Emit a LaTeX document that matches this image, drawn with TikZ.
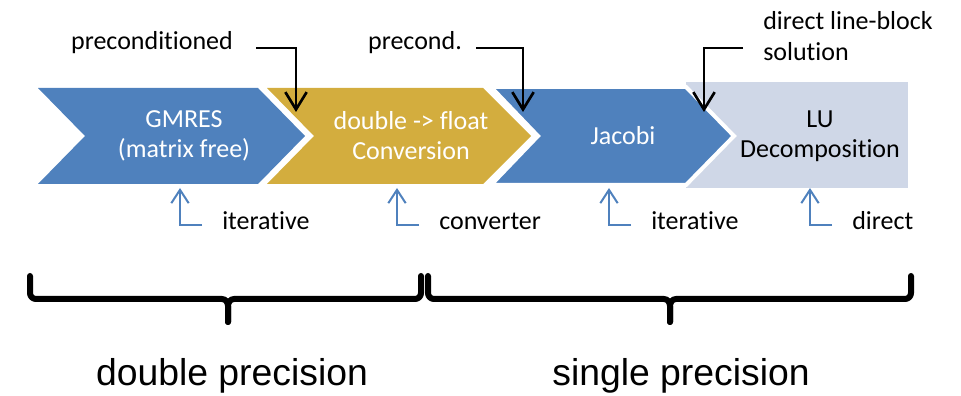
\documentclass[tikz,border=0pt]{standalone}
\usepackage{fontspec}
\setmainfont[Ligatures=NoCommon]{Carlito}
\newfontfamily\arialfont{Liberation Sans}
\usepackage{xcolor}
\usetikzlibrary{arrows.meta,positioning}

\definecolor{chevblue}{HTML}{4F81BD}
\definecolor{chevgold}{HTML}{D3AD3E}
\definecolor{lubox}{HTML}{CFD7E7}

\tikzset{
    chevtext/.style={font=\fontsize{19.5}{22.5}\selectfont, text=white, align=center},
    note/.style={font=\fontsize{19.5}{23.5}\selectfont, align=left, inner sep=0pt},
    callout/.style={draw=black, line width=2pt, -{Straight Barb[length=13pt,width=16pt]}},
    kindarrow/.style={draw=chevblue, line width=1.5pt, -{Straight Barb[length=10pt,width=13pt]}},
    precbrace/.style={line width=4.5pt, line cap=round, line join=round},
    bigtext/.style={font=\arialfont\fontsize{28}{32}\selectfont}
}

\begin{document}
\begin{tikzpicture}[x=0.75pt,y=0.75pt]
    \useasboundingbox (0,0) rectangle (961,396);

    % chevrons
    \fill[lubox] (686,314) rectangle (908,208);
    \fill[chevblue] (38,308) -- (258,308) -- (305,260) -- (258,212) -- (38,212) -- (85,260) -- cycle;
    \fill[chevgold] (267,308) -- (483,308) -- (531,260) -- (483,212) -- (267,212) -- (314,260) -- cycle;
    \filldraw[fill=chevblue, draw=white, line width=3pt]
        (491,309) -- (686,309) -- (734,260) -- (686,211) -- (491,211) -- (538,260) -- cycle;

    \node[chevtext] (gmres) at (184,260) {GMRES\\(matrix free)};
    \node[chevtext] (conv) at (411,260) {double -> float\\Conversion};
    \node[chevtext] (jacobi) at (623,260) {Jacobi};
    \node[chevtext, text=black] (lu) at (820,260) {LU\\Decomposition};

    % labels above
    \node[note] (pre) at (152,353) {preconditioned};
    \node[note] (prec) at (415,353) {precond.};
    \node[note, anchor=west] (lineblk) at (763,360) {direct line-block\\solution};

    \coordinate (a1s) at (256,348);
    \coordinate (a1e) at (296,284);
    \coordinate (a2s) at (476,348);
    \coordinate (a2e) at (523,284);
    \coordinate (a3s) at (743,348);
    \coordinate (a3e) at (704,284);
    \draw[callout] (a1s) -| (a1e);
    \draw[callout] (a2s) -| (a2e);
    \draw[callout] (a3s) -| (a3e);

    % labels below
    \foreach \x/\name/\txt in {180/k1/iterative,397/k2/converter,609/k3/iterative,810/k4/direct}{
        \node[note, anchor=west] (\name) at (\x+42,175) {\txt};
        \coordinate (\name tip) at (\x,208);
        \draw[kindarrow] (\x+22,171) -| (\name tip);
    }

    % braces
    \draw[precbrace] (30,120) -- (30,103) to[out=-90,in=180] (36,97) -- (222,97)
        to[out=0,in=90] (228,90) -- (228,74);
    \draw[precbrace] (228,74) -- (228,90) to[out=90,in=180] (234,97) -- (415,97)
        to[out=0,in=-90] (421,103) -- (421,120);
    \draw[precbrace] (428,120) -- (428,103) to[out=-90,in=180] (434,97) -- (664,97)
        to[out=0,in=90] (670,90) -- (670,74);
    \draw[precbrace] (670,74) -- (670,90) to[out=90,in=180] (676,97) -- (905,97)
        to[out=0,in=-90] (911,103) -- (911,120);

    \node[bigtext] (dbl) at (232,20) {double precision};
    \node[bigtext] (sgl) at (681,20) {single precision};
\end{tikzpicture}
\end{document}
